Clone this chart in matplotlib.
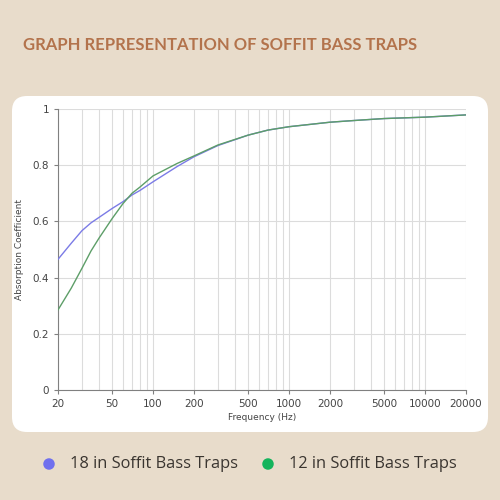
import matplotlib.pyplot as plt
from matplotlib.patches import FancyBboxPatch, Circle
from matplotlib.ticker import FixedLocator, LogLocator, NullFormatter

# frequency points (Hz)
freq = [20, 25, 30, 35, 40, 50, 60, 70, 80, 100, 150, 200, 300, 500, 700, 1000, 2000, 3000, 5000, 10000, 20000]
# 18 in soffit trap
abs_18 = [0.465, 0.522, 0.567, 0.595, 0.614, 0.646, 0.670, 0.694, 0.710, 0.741, 0.795, 0.830, 0.870, 0.907, 0.925, 0.937, 0.953, 0.959, 0.966, 0.971, 0.979]
# 12 in soffit trap
abs_12 = [0.285, 0.362, 0.433, 0.495, 0.540, 0.610, 0.663, 0.700, 0.722, 0.762, 0.806, 0.833, 0.872, 0.907, 0.925, 0.937, 0.953, 0.959, 0.966, 0.971, 0.979]

xticks = [20, 50, 100, 200, 500, 1000, 2000, 5000, 10000, 20000]
yticks = [0, 0.2, 0.4, 0.6, 0.8, 1]
labels = ['18 in Soffit Bass Traps', '12 in Soffit Bass Traps']

bg = '#e8dccb'
fig = plt.figure(figsize=(5, 5), dpi=100, facecolor=bg)

# white card behind the axes
card = FancyBboxPatch((0.024, 0.136), 0.952, 0.672, boxstyle='round,pad=0,rounding_size=0.03',
                      transform=fig.transFigure, facecolor='white', edgecolor='none', zorder=-5)
fig.patches.append(card)

fig.text(0.046, 0.91, 'GRAPH REPRESENTATION OF SOFFIT BASS TRAPS', fontsize=12,
         fontweight='bold', color='#b3734c', family='Lato', va='center')

ax = fig.add_axes([0.116, 0.22, 0.816, 0.562])
ax.set_zorder(2)
ax.set_facecolor('white')
ax.plot(freq, abs_18, color='#7b7be6', lw=1.0, zorder=3)
ax.plot(freq, abs_12, color='#5d9e68', lw=1.0, zorder=3)

ax.set_xscale('log')
ax.set_xlim(20, 20000)
ax.set_ylim(0, 1)
ax.xaxis.set_major_locator(FixedLocator(xticks))
ax.set_xticklabels([str(t) for t in xticks])
ax.xaxis.set_minor_locator(LogLocator(base=10, subs=range(1, 10), numticks=50))
ax.xaxis.set_minor_formatter(NullFormatter())
ax.set_yticks(yticks)
ax.set_yticklabels(['0', '0.2', '0.4', '0.6', '0.8', '1'])

ax.grid(True, which='both', axis='x', color='#dcdcdc', lw=0.8)
ax.grid(True, which='major', axis='y', color='#dcdcdc', lw=0.8)
ax.set_axisbelow(True)
for s in ['top', 'right']:
    ax.spines[s].set_visible(False)
for s in ['left', 'bottom']:
    ax.spines[s].set_color('#808080')
    ax.spines[s].set_linewidth(0.8)
ax.tick_params(axis='both', which='major', labelsize=7.5, colors='#808080', labelcolor='#444444',
               length=3, width=0.8)
ax.tick_params(axis='x', which='minor', length=0)
ax.set_xlabel('Frequency (Hz)', fontsize=6.5, color='#444444', labelpad=3)
ax.set_ylabel('Absorption Coefficient', fontsize=6.5, color='#444444', labelpad=6)

# legend below the card
colors = ['#7070ee', '#14b45c']
xs = [0.098, 0.536]
for x, c, lab in zip(xs, colors, labels):
    fig.patches.append(Circle((x, 0.072), 0.0115, transform=fig.transFigure,
                              facecolor=c, edgecolor='none'))
    fig.text(x + 0.042, 0.072, lab, fontsize=11.8, color='#3a3530', family='Open Sans', va='center')

fig.savefig('out.png', dpi=100, facecolor=bg)
